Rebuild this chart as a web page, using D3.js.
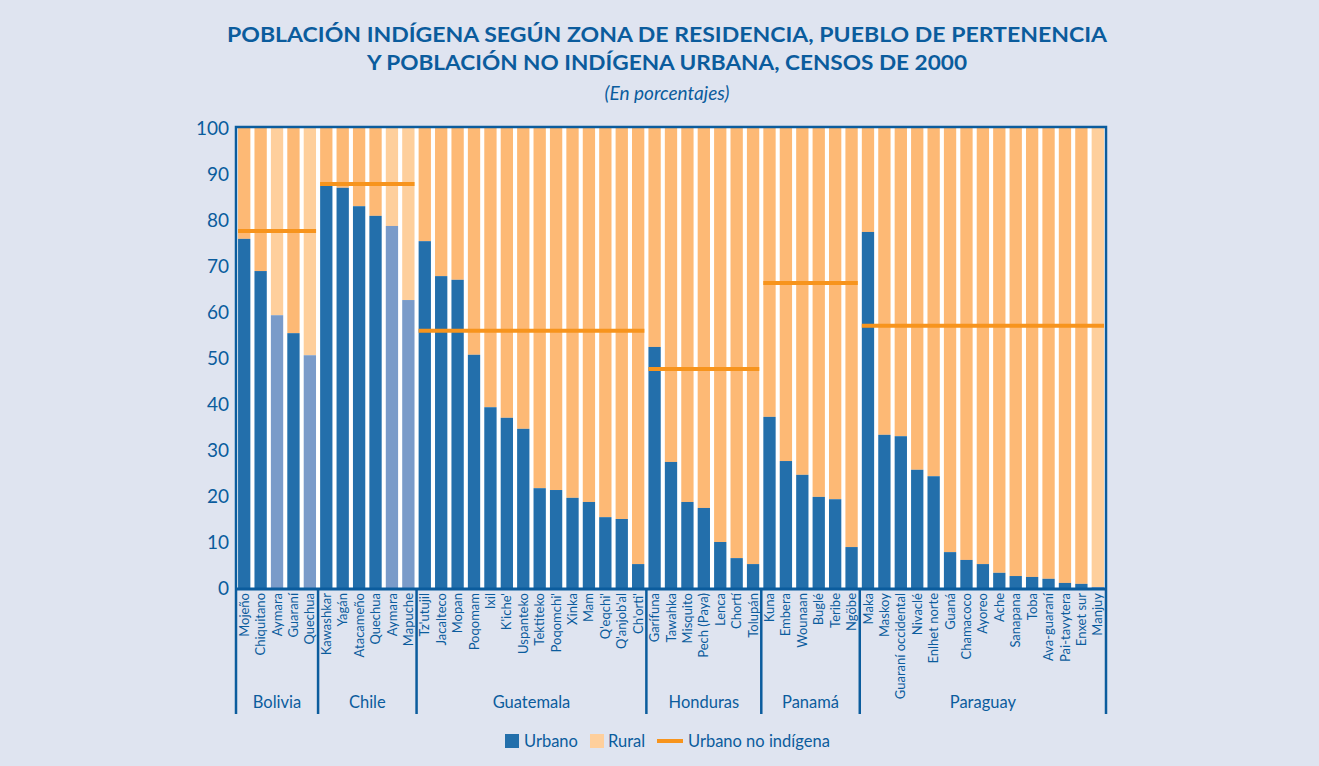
<!DOCTYPE html>
<html>
<head>
<meta charset="utf-8">
<script src="https://cdn.jsdelivr.net/npm/d3@7"></script>
<style>
  body { margin: 0; background: #dfe4f0; }
  svg { display: block; font-family: Lato, "Open Sans", sans-serif; }
  .title { font-weight: 700; font-size: 21px; fill: #0b5c9d; }
  .subtitle { font-style: italic; font-size: 19px; fill: #0b5c9d; }
  .axis text { font-family: Lato, "Open Sans", sans-serif; font-size: 19px; fill: #0b5c9d; }
  .pueblo { font-size: 13px; fill: #0b5c9d; }
  .country { font-size: 16.5px; fill: #0b5c9d; }
  .legend text { font-size: 16.5px; fill: #0b5c9d; }
</style>
</head>
<body>
<div id="chart"></div>
<script>
// --- data (urban share, %; rural = 100 - urban) ---
const countries = ['Bolivia', 'Chile', 'Guatemala', 'Honduras', 'Panamá', 'Paraguay'];

const boliviaPueblos = ['Mojeño', 'Chiquitano', 'Aymara', 'Guaraní', 'Quechua'];
const boliviaUrbano = [75.9, 68.9, 59.3, 55.4, 50.6];

const chilePueblos = ['Kawashkar', 'Yagán', 'Atacameño', 'Quechua', 'Aymara', 'Mapuche'];
const chileUrbano = [87.4, 87.0, 83.0, 80.9, 78.7, 62.6];

const guatemalaPueblos = ["Tz'utujil", 'Jacalteco', 'Mopan', 'Poqomam', 'Ixil', "K'iche'", 'Uspanteko',
  'Tektiteko', "Poqomchi'", 'Xinka', 'Mam', "Q'eqchi'", "Q'anjob'al", "Ch'orti'"];
const guatemalaUrbano = [75.4, 67.8, 67.0, 50.7, 39.3, 37.0, 34.6, 21.7, 21.3, 19.6, 18.7, 15.4, 15.0, 5.2];

const hondurasPueblos = ['Garífuna', 'Tawahka', 'Misquito', 'Pech (Paya)', 'Lenca', 'Chortí', 'Tolupán'];
const hondurasUrbano = [52.4, 27.4, 18.7, 17.4, 10.0, 6.5, 5.2];

const panamaPueblos = ['Kuna', 'Embera', 'Wounaan', 'Buglé', 'Teribe', 'Ngöbe'];
const panamaUrbano = [37.2, 27.6, 24.6, 19.8, 19.3, 8.9];

const paraguayPueblos = ['Maka', 'Maskoy', 'Guaraní occidental', 'Nivaclé', 'Enlhet norte', 'Guaná',
  'Chamacoco', 'Ayoreo', 'Ache', 'Sanapana', 'Toba', 'Ava-guaraní', 'Pai-tavytera', 'Enxet sur', 'Manjuy'];
const paraguayUrbano = [77.4, 33.3, 33.0, 25.7, 24.3, 7.8, 6.1, 5.2, 3.3, 2.6, 2.4, 2.0, 1.1, 0.9, 0.2];

// urban share of the non-indigenous population, one per country
const noIndigenaUrbano = [77.6, 87.8, 55.9, 47.6, 66.3, 57.0];

// bars drawn in the lighter shade
const lighterBars = ['Bolivia|Aymara', 'Bolivia|Quechua', 'Chile|Aymara', 'Chile|Mapuche', 'Paraguay|Manjuy'];

const yTicks = [0, 10, 20, 30, 40, 50, 60, 70, 80, 90, 100];

const pueblosByCountry = [boliviaPueblos, chilePueblos, guatemalaPueblos, hondurasPueblos, panamaPueblos, paraguayPueblos];
const urbanoByCountry = [boliviaUrbano, chileUrbano, guatemalaUrbano, hondurasUrbano, panamaUrbano, paraguayUrbano];

const rows = [];
countries.forEach((c, i) => {
  pueblosByCountry[i].forEach((p, j) => {
    rows.push({ key: `${c}|${p}`, country: c, pueblo: p, urbano: urbanoByCountry[i][j] });
  });
});

const W = 1319;
const H = 766;
const plot = { left: 236, right: 1106, top: 128, bottom: 588 };
const colors = {
  urban: '#236fab',
  urbanLight: '#7a9bc9',
  rural: '#fdb975',
  ruralLight: '#fecf9c',
  line: '#f7941d',
  ink: '#0b5c9d',
};

const svg = d3.select('#chart').append('svg')
  .attr('width', W)
  .attr('height', H);

svg.append('rect').attr('width', W).attr('height', H).attr('fill', '#dfe4f0');

// titles (stretched to the width of the original's wider typeface)
svg.append('text').attr('class', 'title').attr('x', 667).attr('y', 42)
  .attr('text-anchor', 'middle')
  .attr('textLength', 880)
  .attr('lengthAdjust', 'spacingAndGlyphs')
  .text('POBLACIÓN INDÍGENA SEGÚN ZONA DE RESIDENCIA, PUEBLO DE PERTENENCIA');
svg.append('text').attr('class', 'title').attr('x', 667).attr('y', 70)
  .attr('text-anchor', 'middle')
  .attr('textLength', 600)
  .attr('lengthAdjust', 'spacingAndGlyphs')
  .text('Y POBLACIÓN NO INDÍGENA URBANA, CENSOS DE 2000');
svg.append('text').attr('class', 'subtitle').attr('x', 667).attr('y', 100)
  .attr('text-anchor', 'middle')
  .text('(En porcentajes)');

const x = d3.scaleBand()
  .domain(rows.map((d) => d.key))
  .range([plot.left, plot.right])
  .paddingInner(0.25)
  .paddingOuter(0.125);

const y = d3.scaleLinear().domain([0, 100]).range([plot.bottom, plot.top]);

svg.append('rect')
  .attr('x', plot.left).attr('y', plot.top - 1)
  .attr('width', plot.right - plot.left).attr('height', plot.bottom - plot.top + 1)
  .attr('fill', '#fff');

const isLight = (d) => lighterBars.includes(d.key);

// rural part
svg.append('g').selectAll('rect')
  .data(rows)
  .join('rect')
  .attr('x', (d) => x(d.key))
  .attr('width', x.bandwidth())
  .attr('y', y(100))
  .attr('height', (d) => y(d.urbano) - y(100))
  .attr('fill', (d) => (isLight(d) ? colors.ruralLight : colors.rural));

// urban part
svg.append('g').selectAll('rect')
  .data(rows)
  .join('rect')
  .attr('x', (d) => x(d.key))
  .attr('width', x.bandwidth())
  .attr('y', (d) => y(d.urbano))
  .attr('height', (d) => y(0) - y(d.urbano))
  .attr('fill', (d) => (isLight(d) ? colors.urbanLight : colors.urban));

// country spans
const step = x.step();
const groups = countries.map((c, i) => {
  const keys = pueblosByCountry[i].map((p) => `${c}|${p}`);
  const x0 = x(keys[0]) - (step * x.paddingInner()) / 2;
  const x1 = x(keys[keys.length - 1]) + x.bandwidth() + (step * x.paddingInner()) / 2;
  return { country: c, x0, x1, noInd: noIndigenaUrbano[i] };
});
groups[0].x0 = plot.left;
groups[groups.length - 1].x1 = plot.right;

// non-indigenous urban lines
svg.append('g').selectAll('line')
  .data(groups)
  .join('line')
  .attr('x1', (d) => d.x0 + 2)
  .attr('x2', (d) => d.x1 - 2)
  .attr('y1', (d) => y(d.noInd))
  .attr('y2', (d) => y(d.noInd))
  .attr('stroke', colors.line)
  .attr('stroke-width', 4);

// frame
const frame = svg.append('g').attr('stroke', colors.ink).attr('fill', 'none');
frame.append('path')
  .attr('d', `M${plot.left},${plot.bottom} V${plot.top - 1} H${plot.right} V${plot.bottom}`)
  .attr('stroke-width', 2.5);
frame.append('line')
  .attr('x1', plot.left - 1).attr('x2', plot.right + 1)
  .attr('y1', plot.bottom + 1).attr('y2', plot.bottom + 1)
  .attr('stroke-width', 3);

// category separators below the axis
svg.append('g').selectAll('line')
  .data([plot.left, ...groups.slice(1).map((g) => g.x0), plot.right])
  .join('line')
  .attr('x1', (d) => d).attr('x2', (d) => d)
  .attr('y1', plot.bottom).attr('y2', 714)
  .attr('stroke', colors.ink)
  .attr('stroke-width', 2.5);

// y axis
const yAxis = svg.append('g')
  .attr('class', 'axis')
  .attr('transform', `translate(${plot.left},0)`)
  .call(d3.axisLeft(y).tickValues(yTicks).tickSize(0).tickPadding(7));
yAxis.select('.domain').remove();

// pueblo labels
svg.append('g').selectAll('text')
  .data(rows)
  .join('text')
  .attr('class', 'pueblo')
  .attr('transform', (d) => `translate(${x(d.key) + x.bandwidth() / 2},${plot.bottom + 5}) rotate(-90)`)
  .attr('text-anchor', 'end')
  .attr('dy', '0.35em')
  .text((d) => d.pueblo);

// country labels
svg.append('g').selectAll('text')
  .data(groups)
  .join('text')
  .attr('class', 'country')
  .attr('x', (d) => (d.x0 + d.x1) / 2)
  .attr('y', 708)
  .attr('text-anchor', 'middle')
  .text((d) => d.country);

// legend
const legend = svg.append('g').attr('class', 'legend');
legend.append('rect').attr('x', 505).attr('y', 734).attr('width', 14).attr('height', 14).attr('fill', colors.urban);
legend.append('text').attr('x', 524).attr('y', 747).text('Urbano');
legend.append('rect').attr('x', 590).attr('y', 734).attr('width', 14).attr('height', 14).attr('fill', colors.ruralLight);
legend.append('text').attr('x', 608).attr('y', 747).text('Rural');
legend.append('line').attr('x1', 657).attr('x2', 683).attr('y1', 741).attr('y2', 741)
  .attr('stroke', colors.line).attr('stroke-width', 4);
legend.append('text').attr('x', 688).attr('y', 747).text('Urbano no indígena');
</script>
</body>
</html>
